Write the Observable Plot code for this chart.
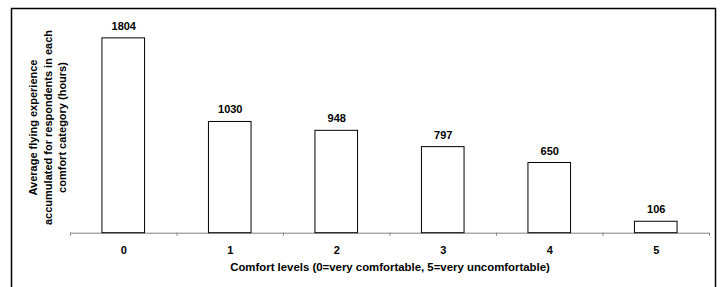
<!DOCTYPE html>
<html>
<head>
<meta charset="utf-8">
<script src="https://cdn.jsdelivr.net/npm/d3@7"></script>
<script src="https://cdn.jsdelivr.net/npm/@observablehq/plot@0.6"></script>
<style>
  html, body { margin: 0; padding: 0; background: white; }
</style>
</head>
<body>
<div id="chart"></div>
<script>
const levels = [0, 1, 2, 3, 4, 5];
const hours = [1804, 1030, 948, 797, 650, 106];
const tickLabels = ["0", "1", "2", "3", "4", "5"];
const xTitle = "Comfort levels (0=very comfortable, 5=very uncomfortable)";
const yTitle = ["Average flying experience", "accumulated for respondents in each", "comfort category (hours)"];

const data = levels.map((l, i) => ({level: l, hours: hours[i]}));
const boundaries = levels.concat([levels.length]).map(l => l - 0.5);

const font = "Arial, 'Liberation Sans', sans-serif";

const chart = Plot.plot({
  width: 722,
  height: 287,
  marginLeft: 70,
  marginRight: 13,
  marginTop: 16.7,
  marginBottom: 54.3,
  x: {type: "linear", domain: [-0.5, 5.5]},
  y: {domain: [0, 2000], axis: null},
  style: {fontFamily: font, fontSize: "11px", fontWeight: "bold", color: "black", background: "white"},
  marks: [
    Plot.axisX(boundaries, {tickSize: 3, tickFormat: () => "", stroke: "#808080", label: null}),
    Plot.axisX(levels, {tickSize: 0, tickPadding: 13, tickFormat: i => tickLabels[i], label: null, fill: "black"}),
    Plot.ruleY([0], {stroke: "#808080"}),
    Plot.rectY(data, {x1: d => d.level - 0.2, x2: d => d.level + 0.2, y: "hours", fill: "white", stroke: "black"}),
    Plot.text(data, {x: "level", y: "hours", text: d => String(d.hours), dy: -12, fill: "black"}),
    Plot.text([xTitle], {frameAnchor: "bottom", text: d => d, dy: 37.5, fontSize: 11.4, fill: "black"}),
    Plot.text([yTitle.join("\n")], {frameAnchor: "left", text: d => d, rotate: -90, textAnchor: "middle", dx: -23.5, dy: 2.3, lineHeight: 1.32, fill: "black"})
  ]
});

d3.select(chart).append("rect")
  .attr("x", 11.5).attr("y", 8.5)
  .attr("width", 704).attr("height", 300)
  .attr("fill", "none").attr("stroke", "black").attr("stroke-width", 1.5);

document.getElementById("chart").appendChild(chart);
</script>
</body>
</html>
